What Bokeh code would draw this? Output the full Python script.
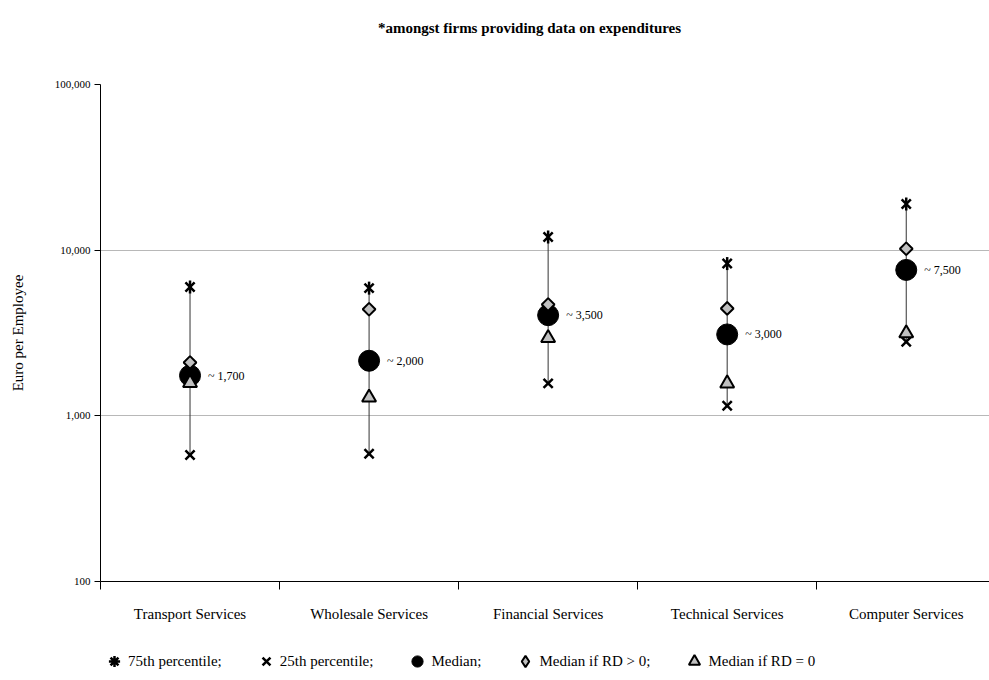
import math
from bokeh.plotting import figure
from bokeh.layouts import column
from bokeh.models import (ColumnDataSource, FixedTicker, NumeralTickFormatter, Legend,
                          LegendItem, Range1d, Label)
from bokeh.embed import file_html
from bokeh.resources import INLINE
from bokeh.core.properties import value

# ---- data ----
categories = ["Transport Services", "Wholesale Services", "Financial Services",
              "Technical Services", "Computer Services"]
p75 = [6000, 5900, 12000, 8300, 19000]
p25 = [580, 590, 1570, 1150, 2800]
median = [1750, 2150, 4050, 3100, 7600]
median_rd_pos = [2100, 4400, 4700, 4450, 10200]
median_rd_zero = [1580, 1290, 2950, 1570, 3150]
median_labels = ["~ 1,700", "~ 2,000", "~ 3,500", "~ 3,000", "~ 7,500"]
y_ticks = [100, 1000, 10000, 100000]
title_text = "*amongst firms providing data on expenditures"
legend_labels = ["75th percentile;", "25th percentile;", "Median;",
                 "Median if RD > 0;", "Median if RD = 0"]

FONT = "Liberation Serif"
W = 989

xs = [i + 0.5 for i in range(len(categories))]
boundaries = [float(i) for i in range(len(categories))]

src = ColumnDataSource(dict(x=xs, p75=p75, p25=p25, med=median, pos=median_rd_pos,
                            zero=median_rd_zero, lab=median_labels))


def bare(height):
    f = figure(width=W, height=height, x_range=Range1d(0, 1), y_range=Range1d(0, 1),
               output_backend="svg", toolbar_location=None,
               x_axis_location=None, y_axis_location=None,
               min_border_left=0, min_border_right=0, min_border_top=0, min_border_bottom=0)
    f.outline_line_color = None
    f.xgrid.visible = False
    f.ygrid.visible = False
    return f


# ---- title strip (its frame is aligned with the main chart's frame, starting at x=100) ----
t = bare(54)
t.add_layout(Label(x=429, y=27, x_units="screen", y_units="screen", text=title_text,
                   text_font=FONT, text_font_size="15px", text_font_style="bold",
                   text_color="black", text_align="center", text_baseline="middle"))

# ---- main chart ----
p = figure(width=W, height=589, y_axis_type="log",
           x_range=Range1d(0, 4.965), y_range=Range1d(100, 100000),
           output_backend="svg", toolbar_location=None,
           min_border_left=100, min_border_right=0, min_border_top=30, min_border_bottom=62)
p.outline_line_color = None

xa = p.xaxis[0]
xa.ticker = FixedTicker(ticks=xs, minor_ticks=boundaries)
xa.major_label_overrides = {x: c for x, c in zip(xs, categories)}
xa.major_tick_line_color = None
xa.major_tick_out = 0
xa.major_tick_in = 0
xa.minor_tick_out = 8
xa.minor_tick_in = 0
xa.minor_tick_line_color = "black"
xa.axis_line_color = "black"
xa.major_label_text_font = FONT
xa.major_label_text_font_size = "15px"
xa.major_label_text_color = "black"
xa.major_label_standoff = 16

ya = p.yaxis[0]
ya.ticker = FixedTicker(ticks=y_ticks)
ya.formatter = NumeralTickFormatter(format="0,0")
ya.minor_tick_line_color = None
ya.major_tick_out = 6
ya.major_tick_in = 0
ya.major_tick_line_color = "black"
ya.axis_line_color = "black"
ya.major_label_text_font = FONT
ya.major_label_text_font_size = "11px"
ya.major_label_text_color = "black"
ya.major_label_standoff = 4
ya.axis_label = "Euro per Employee"
ya.axis_label_text_font = FONT
ya.axis_label_text_font_size = "15px"
ya.axis_label_text_font_style = "normal"
ya.axis_label_text_color = "black"
ya.axis_label_standoff = 26

p.xgrid.visible = False
p.ygrid.ticker = FixedTicker(ticks=y_ticks)
p.ygrid.grid_line_color = "#707070"
p.ygrid.grid_line_dash = "1 1"
p.ygrid.grid_line_width = 1

p.segment(x0="x", y0="p25", x1="x", y1="p75", source=src, line_color="#333333", line_width=1)
p.scatter("x", "p25", source=src, marker="x", size=13, line_color="black", line_width=2.5)
p.scatter("x", "p75", source=src, marker="x", size=13, line_color="black", line_width=2.5)
p.scatter("x", "p75", source=src, marker="dash", angle=math.pi / 2, size=13,
          line_color="black", line_width=2.5)
p.scatter("x", "med", source=src, marker="circle", size=21, fill_color="black",
          line_color="black")
p.scatter("x", "pos", source=src, marker="square", angle=math.pi / 4, size=9,
          fill_color="#c0c0c0", line_color="black", line_width=2)
p.scatter("x", "zero", source=src, marker="triangle", size=14,
          fill_color="#c0c0c0", line_color="black", line_width=2)
p.text("x", "med", text="lab", source=src, x_offset=18, text_baseline="middle",
       text_align="left", text_font=value(FONT), text_font_size="12px", text_color="black")

# ---- legend strip (same marks, drawn off-range so only the legend shows) ----
lg = bare(37)
lg.x_range = Range1d(100, 101)
l75 = lg.scatter("x", "p75", source=src, marker="asterisk", size=13, line_color="black",
                 line_width=2.5)
l25 = lg.scatter("x", "p25", source=src, marker="x", size=13, line_color="black", line_width=2.5)
lmed = lg.scatter("x", "med", source=src, marker="circle", size=21, fill_color="black",
                  line_color="black")
lpos = lg.scatter("x", "pos", source=src, marker="diamond", size=14,
                  fill_color="#c0c0c0", line_color="black", line_width=2)
lzero = lg.scatter("x", "zero", source=src, marker="triangle", size=14,
                   fill_color="#c0c0c0", line_color="black", line_width=2)
groups = [[l75], [l25], [lmed], [lpos], [lzero]]
legend = Legend(items=[LegendItem(label=l, renderers=r) for l, r in zip(legend_labels, groups)],
                orientation="horizontal", location=(0, 5))
legend.label_text_font = FONT
legend.label_text_font_size = "15px"
legend.label_text_color = "black"
legend.border_line_color = None
legend.background_fill_alpha = 0
legend.glyph_width = 28
legend.glyph_height = 28
legend.label_standoff = 0
legend.spacing = 30
legend.padding = 0
legend.margin = 0
lg.add_layout(legend, "center")

open("out.html", "w").write(file_html(column(t, p, lg, spacing=0), INLINE))
